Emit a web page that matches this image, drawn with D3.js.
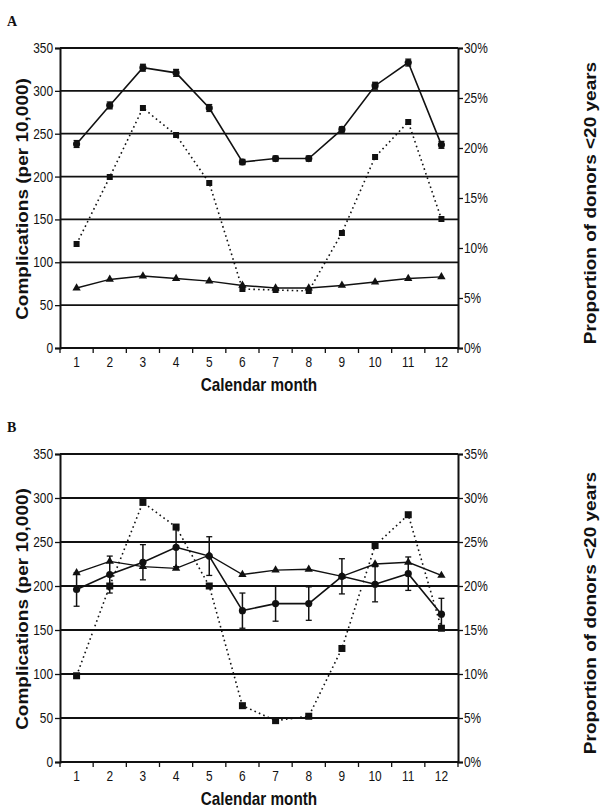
<!DOCTYPE html>
<html>
<head>
<meta charset="utf-8">
<script src="https://cdn.jsdelivr.net/npm/d3@7"></script>
<style>
  body { margin: 0; background: #fff; }
  svg { display: block; }
  .tick text { font-family: "Liberation Sans", Arial, sans-serif; font-size: 14px; fill: #111; }
  .title { font-family: "Liberation Sans", Arial, sans-serif; font-weight: bold; font-size: 19px; fill: #111; }
  .panel { font-family: "Liberation Serif", serif; font-weight: bold; font-size: 14px; fill: #111; }
</style>
</head>
<body>
<div id="chart"></div>
<script>
// months on the x axis
const months = [1, 2, 3, 4, 5, 6, 7, 8, 9, 10, 11, 12];
const leftTicks = [0, 50, 100, 150, 200, 250, 300, 350];

// panel A
const aRate = [238, 283, 327, 321, 280, 217, 221, 221, 255, 306, 333, 237];
const aErr = [4, 4, 4, 4, 4, 3, 3, 3, 3, 4, 4, 4];
const aTri = [70, 80, 84, 81, 78, 73, 70, 70, 73, 77, 81, 83];
const aYoung = [10.4, 17.1, 24.0, 21.3, 16.5, 5.9, 5.8, 5.7, 11.5, 19.1, 22.6, 12.9];
const aRightTicks = [0, 5, 10, 15, 20, 25, 30];

// panel B
const bRate = [196, 213, 227, 244, 234, 172, 180, 180, 211, 202, 214, 168];
const bErr = [19, 21, 20, 22, 22, 20, 20, 19, 20, 20, 19, 18];
const bTri = [215, 228, 222, 220, 235, 213, 218, 219, 211, 225, 227, 212];
const bYoung = [9.8, 20.0, 29.5, 26.7, 20.0, 6.4, 4.7, 5.2, 12.9, 24.6, 28.1, 15.2];
const bRightTicks = [0, 5, 10, 15, 20, 25, 30, 35];

const W = 609, H = 808;
const sx = 0.85; // scan squeezes text horizontally

const svg = d3.select("#chart").append("svg")
  .attr("width", W).attr("height", H);

function drawPanel(opt) {
  const left = 60, right = 458;
  const x = d3.scaleBand().domain(months).range([left, right]);
  const cx = (m) => x(m) + x.bandwidth() / 2;
  const y = d3.scaleLinear().domain([0, 350]).range([opt.bottom, opt.top]);
  const yR = d3.scaleLinear().domain([0, opt.rightMax]).range([opt.bottom, opt.top]);

  const g = svg.append("g");

  // panel letter
  g.append("text").attr("class", "panel")
    .attr("x", 7).attr("y", opt.top - 22).text(opt.letter);

  // horizontal grid
  g.append("g").selectAll("line")
    .data(leftTicks.filter((d) => d > 0))
    .join("line")
    .attr("x1", left).attr("x2", right)
    .attr("y1", (d) => y(d)).attr("y2", (d) => y(d))
    .attr("stroke", "#111").attr("stroke-width", 1.8);

  // axes
  const yAxis = g.append("g").attr("transform", `translate(${left},0)`)
    .call(d3.axisLeft(y).tickValues(leftTicks).tickSize(5).tickPadding(3));
  const yAxisR = g.append("g").attr("transform", `translate(${right},0)`)
    .call(d3.axisRight(yR).tickValues(opt.rightTicks).tickSize(5).tickPadding(2)
      .tickFormat((d) => d + "%"));
  const xAxis = g.append("g").attr("transform", `translate(0,${opt.bottom})`)
    .call(d3.axisBottom(x).tickSize(0).tickPadding(9));
  // category ticks sit between the months
  g.append("g").selectAll("line")
    .data(d3.range(13))
    .join("line")
    .attr("x1", (i) => left + i * x.step()).attr("x2", (i) => left + i * x.step())
    .attr("y1", opt.bottom).attr("y2", opt.bottom + 5)
    .attr("stroke", "#111").attr("stroke-width", 1.3);

  [yAxis, yAxisR, xAxis].forEach((a) => {
    a.select(".domain").attr("stroke", "#111").attr("stroke-width", 2);
    a.selectAll(".tick line").attr("stroke", "#111").attr("stroke-width", 1.3);
    a.selectAll(".tick text").attr("transform", `scale(${sx},1)`);
  });
  yAxis.selectAll(".tick text").attr("x", -7 / sx);
  yAxisR.selectAll(".tick text").attr("x", 6 / sx);
  xAxis.select(".domain").attr("d", `M${left},0H${right}`);

  // titles
  const midY = (opt.top + opt.bottom) / 2;
  g.append("text").attr("class", "title")
    .attr("text-anchor", "middle")
    .attr("transform", `translate(28,${midY + 1}) scale(${sx},1) rotate(-90)`)
    .text("Complications (per 10,000)");
  g.append("text").attr("class", "title")
    .attr("text-anchor", "middle")
    .attr("transform", `translate(596,${midY + 5}) scale(${sx},1) rotate(-90)`)
    .text("Proportion of donors <20 years");
  g.append("text").attr("class", "title")
    .attr("text-anchor", "middle")
    .attr("transform", `translate(${(left + right) / 2},${opt.bottom + 43}) scale(${sx},1)`)
    .style("font-size", "18px")
    .text("Calendar month");

  // dotted series: proportion of young donors (right axis)
  const lineR = d3.line().x((d, i) => cx(months[i])).y((d) => yR(d));
  g.append("path").datum(opt.young)
    .attr("d", lineR).attr("fill", "none")
    .attr("stroke", "#111").attr("stroke-width", 1.6)
    .attr("stroke-dasharray", "1.6,3.2");
  g.append("g").selectAll("rect").data(opt.young).join("rect")
    .attr("x", (d, i) => cx(months[i]) - opt.sq / 2)
    .attr("y", (d) => yR(d) - opt.sq / 2)
    .attr("width", opt.sq).attr("height", opt.sq)
    .attr("fill", "#111");

  // triangle series
  const lineL = d3.line().x((d, i) => cx(months[i])).y((d) => y(d));
  g.append("path").datum(opt.tri)
    .attr("d", lineL).attr("fill", "none")
    .attr("stroke", "#111").attr("stroke-width", 1.4);
  g.append("g").selectAll("path").data(opt.tri).join("path")
    .attr("d", d3.symbol(d3.symbolTriangle, 30))
    .attr("transform", (d, i) => `translate(${cx(months[i])},${y(d)})`)
    .attr("fill", "#111");

  // complication rate with error bars
  g.append("path").datum(opt.rate)
    .attr("d", lineL).attr("fill", "none")
    .attr("stroke", "#111").attr("stroke-width", 1.6);
  const eb = g.append("g").selectAll("g").data(opt.rate).join("g")
    .attr("transform", (d, i) => `translate(${cx(months[i])},0)`);
  eb.append("line")
    .attr("y1", (d, i) => y(d - opt.err[i])).attr("y2", (d, i) => y(d + opt.err[i]))
    .attr("stroke", "#111").attr("stroke-width", 1.5);
  [-1, 1].forEach((s) => {
    eb.append("line")
      .attr("x1", -3).attr("x2", 3)
      .attr("y1", (d, i) => y(d + s * opt.err[i])).attr("y2", (d, i) => y(d + s * opt.err[i]))
      .attr("stroke", "#111").attr("stroke-width", 1.3);
  });
  eb.append("circle").attr("cy", (d) => y(d)).attr("r", 3.6).attr("fill", "#111");
}

drawPanel({
  letter: "A", top: 48, bottom: 348, rightMax: 30, rightTicks: aRightTicks,
  rate: aRate, err: aErr, tri: aTri, young: aYoung, sq: 6
});
drawPanel({
  letter: "B", top: 454, bottom: 762, rightMax: 35, rightTicks: bRightTicks,
  rate: bRate, err: bErr, tri: bTri, young: bYoung, sq: 7
});
</script>
</body>
</html>
